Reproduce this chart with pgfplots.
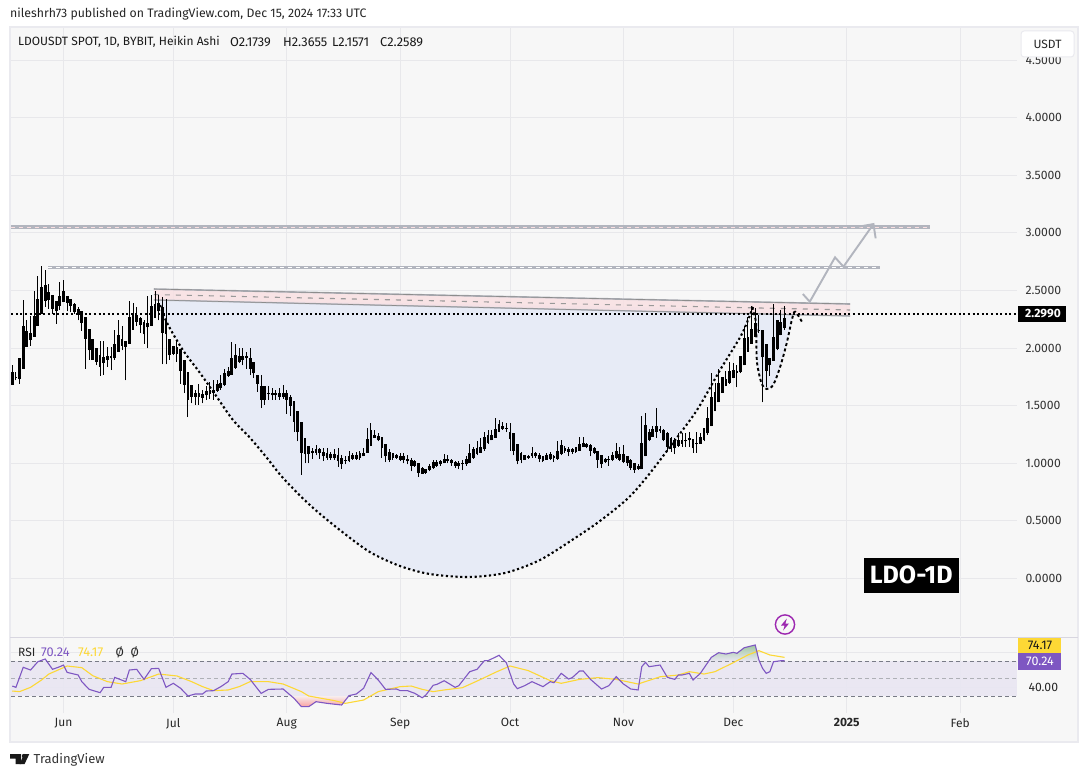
\documentclass[border=0pt]{standalone}
\usepackage{fontspec}
\usepackage{pgfplots}
\usepackage{pgfplotstable}
\pgfplotsset{compat=1.18}
\setmainfont{Fira Sans}
\definecolor{pane}{HTML}{F7F7F7}
\definecolor{panebd}{HTML}{EAEAEF}
\definecolor{gridc}{HTML}{E8E8EB}
\definecolor{sepc}{HTML}{D8D6E0}
\definecolor{cupblue}{HTML}{E7EBF6}
\definecolor{chpink}{HTML}{F9DFE1}
\definecolor{lineg}{HTML}{B2B5BE}
\definecolor{rsip}{HTML}{7E57C2}
\definecolor{rsiy}{HTML}{FDD835}
\definecolor{band}{HTML}{E9E6F2}
\definecolor{dashg}{HTML}{787B86}
\definecolor{bolt}{HTML}{9C27B0}
\newcommand{\fs}[1]{\fontsize{#1}{#1}\selectfont}
\pgfplotstableread{
d bh bl h l
-14 1.79 1.68 1.85 1.68
-13 1.75 1.74 1.79 1.72
-12 1.91 1.73 1.91 1.69
-11 2.19 1.82 2.42 1.82
-10 2.15 2.01 2.24 2.01
-9 2.13 2.07 2.28 2.02
-8 2.28 2.10 2.50 2.10
-7 2.43 2.19 2.63 2.19
-6 2.53 2.30 2.71 2.30
-5 2.55 2.41 2.68 2.36
-4 2.49 2.42 2.56 2.34
-3 2.46 2.34 2.46 2.30
-2 2.41 2.32 2.41 2.21
-1 2.45 2.37 2.57 2.33
0 2.50 2.40 2.59 2.40
1 2.45 2.39 2.45 2.32
2 2.43 2.37 2.43 2.31
3 2.38 2.31 2.39 2.30
4 2.34 2.29 2.36 2.24
5 2.32 2.22 2.32 2.15
6 2.27 2.08 2.27 1.82
7 2.17 1.98 2.17 1.90
8 2.08 1.90 2.08 1.90
9 2.00 1.88 2.00 1.85
10 1.94 1.84 2.06 1.76
11 1.92 1.87 2.06 1.77
12 1.93 1.90 2.01 1.84
13 1.93 1.91 2.01 1.81
14 2.04 1.91 2.16 1.90
15 2.11 1.97 2.24 1.97
16 2.08 2.02 2.19 1.98
17 2.06 2.01 2.06 1.72
18 2.27 2.04 2.41 2.04
19 2.30 2.16 2.39 2.16
20 2.29 2.23 2.36 2.19
21 2.26 2.20 2.27 2.13
22 2.23 2.12 2.24 2.04
23 2.22 2.18 2.45 2.00
24 2.37 2.19 2.46 2.19
25 2.38 2.26 2.50 2.26
26 2.39 2.32 2.46 2.24
27 2.36 2.13 2.44 1.86
28 2.24 2.12 2.43 1.86
29 2.08 1.94 2.08 1.90
30 2.02 1.95 2.02 1.94
31 2.01 1.95 2.06 1.88
32 1.99 1.80 1.99 1.69
33 1.90 1.68 1.90 1.61
34 1.79 1.55 1.79 1.40
35 1.68 1.58 1.68 1.52
36 1.61 1.58 1.64 1.51
37 1.61 1.58 1.69 1.51
38 1.60 1.57 1.64 1.52
39 1.63 1.59 1.67 1.55
40 1.64 1.60 1.71 1.56
41 1.64 1.61 1.72 1.55
42 1.69 1.63 1.72 1.62
43 1.70 1.65 1.77 1.64
44 1.78 1.68 1.82 1.67
45 1.80 1.76 1.84 1.75
46 1.91 1.77 2.05 1.77
47 1.94 1.83 2.04 1.82
48 1.93 1.88 2.00 1.87
49 1.93 1.90 2.00 1.85
50 1.93 1.91 1.97 1.82
51 1.91 1.82 2.00 1.77
52 1.88 1.78 1.88 1.74
53 1.77 1.69 1.77 1.62
54 1.67 1.55 1.77 1.48
55 1.67 1.55 1.67 1.51
56 1.61 1.60 1.67 1.55
57 1.61 1.59 1.65 1.55
58 1.61 1.59 1.64 1.55
59 1.61 1.58 1.65 1.55
60 1.61 1.58 1.68 1.56
61 1.61 1.55 1.64 1.43
62 1.58 1.50 1.59 1.41
63 1.54 1.36 1.54 1.27
64 1.45 1.27 1.45 1.19
65 1.36 1.09 1.36 0.90
66 1.22 1.08 1.22 1.00
67 1.15 1.08 1.15 1.00
68 1.11 1.09 1.13 1.04
69 1.12 1.09 1.16 1.07
70 1.12 1.09 1.13 1.04
71 1.10 1.06 1.13 1.02
72 1.09 1.05 1.13 1.03
73 1.08 1.05 1.10 1.03
74 1.08 1.05 1.12 1.03
75 1.07 1.02 1.13 0.97
76 1.05 0.99 1.07 0.95
77 1.03 1.02 1.06 0.99
78 1.06 1.02 1.11 1.01
79 1.07 1.04 1.09 1.03
80 1.07 1.04 1.10 1.03
81 1.09 1.05 1.11 1.03
82 1.09 1.06 1.13 1.06
83 1.21 1.09 1.31 1.09
84 1.29 1.15 1.35 1.15
85 1.25 1.22 1.29 1.22
86 1.24 1.20 1.26 1.19
87 1.23 1.13 1.23 1.05
88 1.17 1.06 1.17 1.01
89 1.10 1.03 1.12 1.01
90 1.09 1.05 1.09 1.03
91 1.07 1.05 1.08 1.04
92 1.06 1.03 1.09 1.02
93 1.06 1.03 1.09 1.00
94 1.04 1.02 1.07 0.99
95 1.03 0.98 1.05 0.93
96 1.02 0.98 1.03 0.97
97 1.00 0.92 1.00 0.88
98 0.96 0.91 0.97 0.91
99 0.95 0.92 0.95 0.91
100 0.98 0.94 0.99 0.93
101 1.01 0.96 1.03 0.95
102 1.01 0.98 1.03 0.97
103 1.02 0.99 1.03 0.98
104 1.04 1.00 1.08 1.00
105 1.04 1.02 1.07 1.00
106 1.03 1.00 1.04 0.98
107 1.01 0.98 1.02 0.96
108 1.00 0.98 1.02 0.95
109 1.00 0.99 1.03 0.94
110 1.04 0.99 1.06 0.98
111 1.09 1.00 1.17 1.00
112 1.12 1.05 1.14 1.04
113 1.13 1.08 1.19 1.07
114 1.14 1.09 1.22 1.09
115 1.23 1.12 1.27 1.11
116 1.25 1.18 1.29 1.17
117 1.25 1.20 1.29 1.20
118 1.30 1.22 1.39 1.22
119 1.34 1.27 1.38 1.27
120 1.32 1.30 1.36 1.29
121 1.31 1.30 1.35 1.27
122 1.27 1.21 1.35 1.11
123 1.26 1.11 1.26 1.07
124 1.17 1.02 1.17 0.99
125 1.09 1.03 1.10 1.00
126 1.07 1.03 1.07 1.03
127 1.06 1.05 1.07 1.04
128 1.09 1.06 1.14 1.05
129 1.09 1.06 1.10 1.05
130 1.07 1.04 1.09 1.01
131 1.06 1.02 1.06 1.01
132 1.07 1.03 1.09 1.03
133 1.08 1.04 1.10 1.03
134 1.06 1.05 1.07 1.01
135 1.11 1.04 1.19 1.03
136 1.16 1.08 1.20 1.07
137 1.13 1.11 1.15 1.09
138 1.12 1.10 1.14 1.06
139 1.12 1.10 1.13 1.08
140 1.14 1.10 1.14 1.09
141 1.17 1.11 1.23 1.11
142 1.18 1.14 1.23 1.14
143 1.17 1.14 1.18 1.13
144 1.16 1.11 1.17 1.06
145 1.13 1.09 1.14 1.08
146 1.11 1.03 1.11 0.96
147 1.07 0.99 1.07 0.96
148 1.04 1.01 1.05 1.00
149 1.04 1.03 1.06 0.98
150 1.07 1.03 1.10 1.02
151 1.11 1.05 1.18 1.04
152 1.08 1.03 1.14 1.02
153 1.08 1.01 1.16 1.00
154 1.06 1.00 1.06 0.98
155 1.03 0.96 1.04 0.94
156 1.00 0.94 1.00 0.92
157 0.98 0.95 0.99 0.94
158 1.18 0.95 1.41 0.95
159 1.33 1.06 1.44 1.06
160 1.27 1.20 1.30 1.19
161 1.30 1.23 1.32 1.23
162 1.32 1.27 1.48 1.22
163 1.30 1.28 1.32 1.26
164 1.29 1.20 1.30 1.19
165 1.26 1.14 1.27 1.11
166 1.22 1.12 1.23 1.10
167 1.20 1.13 1.22 1.08
168 1.20 1.15 1.26 1.14
169 1.20 1.17 1.26 1.14
170 1.20 1.19 1.26 1.14
171 1.22 1.20 1.27 1.14
172 1.21 1.13 1.21 1.09
173 1.18 1.17 1.27 1.09
174 1.23 1.17 1.26 1.17
175 1.31 1.20 1.31 1.19
176 1.39 1.26 1.49 1.25
177 1.58 1.32 1.78 1.32
178 1.62 1.45 1.70 1.45
179 1.70 1.53 1.82 1.53
180 1.75 1.61 1.75 1.61
181 1.73 1.67 1.80 1.67
182 1.80 1.70 1.88 1.69
183 1.81 1.74 1.87 1.74
184 1.80 1.78 1.85 1.66
185 1.93 1.79 1.93 1.78
186 2.09 1.85 2.19 1.85
187 2.10 1.97 2.27 1.97
188 2.17 2.04 2.37 2.04
189 2.22 2.10 2.35 2.10
190 2.16 2.15 2.29 2.13
191 2.16 1.92 2.16 1.53
192 2.04 1.80 2.04 1.66
193 1.91 1.85 1.91 1.76
194 2.10 1.89 2.38 1.89
195 2.24 1.99 2.24 1.98
196 2.23 2.11 2.33 2.11
197 2.2589 2.1739 2.3655 2.1571
}\candles
\pgfplotstableread{
d v
-14 41.4
-13 39.9
-11 62.8
-9 59.7
-7 69.2
-5 72.3
-3 60.5
-1 63.5
0 65.4
1 57
4 54
5 46.4
7 37.6
10 33.8
11 39.9
13 39.9
14 51.3
17 46.4
18 59.7
20 60.5
22 49
24 61.2
26 61.6
28 39.9
30 44.5
32 38.8
34 30
36 32.3
38 32.3
39 35.7
41 36.1
43 40.7
45 46.4
46 55.1
49 55.9
51 49
54 33
56 37.6
60 38
63 27.3
65 17.8
67 17.8
69 23.5
72 21.6
76 19.7
78 30.4
80 32.3
82 38.8
84 56.7
86 48.3
88 37.6
91 38
92 36.1
94 36.1
96 33
98 28
99 31.1
101 42.2
102 43.3
104 47.5
107 39.9
108 41.8
111 57.8
113 60.5
115 70.4
116 70.4
119 76.5
121 68.1
123 43.7
124 38.4
126 41.8
128 46.4
131 40.7
133 46.4
134 45.2
136 55.9
138 49.4
139 51
141 58.6
142 58.6
144 49
147 38
149 41.8
151 52.1
153 43.7
155 38
157 36.9
158 63.5
159 68.5
160 63.5
163 65.4
165 51.3
167 49
168 54
169 54
171 55.9
172 48.3
174 55.9
177 74.2
179 79.5
181 78
183 79.9
184 78.8
186 85.2
189 88.3
190 71.1
191 61.6
192 55.9
193 57.8
194 69.2
196 70.3
197 70.24
}\rsi
\pgfplotstableread{
d v
-14 35.7
-12 35
-9 39.9
-6 48.3
-4 55.1
1 64.3
5 62.4
8 53.2
12 46.4
16 43.7
21 47.5
26 55.1
31 52.9
35 46.4
38 40.7
41 36.1
45 36.9
48 40.7
51 46.4
56 46.4
60 43.7
65 35
67 30
74 24.7
77 21.6
82 25.4
86 35
92 40.7
95 41.4
98 37.6
101 35
104 36.9
109 39.5
114 49
118 57
122 64.3
127 59
133 47.5
136 44.5
141 49
146 51
151 49
157 43.7
163 52
168 54
171 57.8
175 55.1
178 57.8
183 68.1
187 76.9
190 81.8
193 76.9
197 74.17
}\rsima
\begin{document}
\begin{tikzpicture}
\fill[white] (0pt,0pt) rectangle (1089pt,777pt);
\fill[pane,draw=panebd,line width=1.5pt] (10pt,35pt) rectangle (1078pt,750pt);
\draw[sepc,line width=1pt] (10pt,140pt) -- (1078pt,140pt);
% price pane
\begin{axis}[
  at={(11pt,141pt)},anchor=south west,scale only axis,width=1006pt,height=608pt,
  xmin=-14.344,xmax=260.52,ymin=-0.499,ymax=4.779,
  axis line style={draw=none},tick style={draw=none},
  clip=true,
  xtick={0,30,61,92,122,153,183,214,245},xticklabels={},
  ytick={0,0.5,1,1.5,2,2.5,3,3.5,4,4.5},
  yticklabel pos=right,
  yticklabel style={/pgf/number format/fixed,/pgf/number format/fixed zerofill,/pgf/number format/precision=4,/pgf/number format/assume math mode=true,font=\fs{12.2},black!80,xshift=5pt},
  grid=major,major grid style={gridc,line width=0.9pt},
]
% cup fill
\addplot[draw=none,fill=cupblue,smooth] coordinates {
 (26.4,2.426)(26.4,2.374)(28.3,2.218)(32.6,1.984)(37.3,1.784)(41.9,1.576)(46.3,1.376)(51,1.22)(55.6,1.046)(60,0.872)(67.3,0.638)(75.5,0.421)(83.7,0.23)(91.9,0.109)(100.1,0.039)(110.5,0.013)(120.6,0.048)(130.2,0.161)(139.8,0.352)(146.6,0.50)(154,0.69)(159.4,0.881)(166.5,1.176)(173.1,1.463)(179.4,1.81)(184.9,2.096)(186.8,2.227)(188.4,2.339)} -- cycle;
% handle fill
\addplot[draw=none,fill=cupblue,smooth] coordinates {
 (188.1,2.34)(189.2,2.227)(189.3,2.07)(189.5,1.871)(190.7,1.697)(192.1,1.645)(193.9,1.68)(195.8,1.836)(197.6,2.044)(199,2.244)(199.9,2.316)} -- cycle;
% channel
\addplot[draw=none,fill=chpink,fill opacity=0.8] coordinates {(24.7,2.513)(214.9,2.383)(214.9,2.279)(24.7,2.418)} -- cycle;
\addplot[color=lineg,line width=1.6pt] coordinates {(24.7,2.513)(214.9,2.383)};
\addplot[color=black!45,line width=0.7pt] coordinates {(24.7,2.513)(214.9,2.383)};
\addplot[color=lineg,line width=1.4pt] coordinates {(24.7,2.418)(214.9,2.279)};
\addplot[color=black!45,line width=0.6pt] coordinates {(24.7,2.418)(214.9,2.279)};
\addplot[color=black!40,line width=1.1pt,dash pattern=on 5pt off 6pt] coordinates {(24.7,2.465)(214.9,2.331)};
% resistance levels
\addplot[color=lineg,line width=3.6pt] coordinates {(-14.3,3.051)(236.7,3.051)};
\addplot[color=chpink,line width=1pt,dash pattern=on 4pt off 4pt] coordinates {(-14.3,3.051)(236.7,3.051)};
\addplot[color=lineg,line width=3.6pt] coordinates {(-4.2,2.70)(223.1,2.70)};
\addplot[color=white,line width=1pt,dash pattern=on 4pt off 4pt] coordinates {(-4.2,2.70)(223.1,2.70)};
% last price
\addplot[color=black,line width=2pt,dash pattern=on 2pt off 2.6pt] coordinates {(-14.3,2.299)(260.5,2.299)};
% candles
\addplot[draw=none,no markers,error bars/.cd,y dir=plus,y explicit,error mark=none,error bar style={black,line width=0.95pt}]
  table[x=d,y=l,y error expr=\thisrow{h}-\thisrow{l}] {\candles};
\addplot[draw=none,no markers,error bars/.cd,y dir=plus,y explicit,error mark=none,error bar style={black,line width=2.8pt}]
  table[x=d,y=bl,y error expr=\thisrow{bh}-\thisrow{bl}] {\candles};
% cup outlines
\addplot[color=black,smooth,line width=2.1pt,dash pattern=on 2.2pt off 2.6pt] coordinates {
 (26.4,2.374)(28.3,2.218)(32.6,1.984)(37.3,1.784)(41.9,1.576)(46.3,1.376)(51,1.22)(55.6,1.046)(60,0.872)(67.3,0.638)(75.5,0.421)(83.7,0.23)(91.9,0.109)(100.1,0.039)(110.5,0.013)(120.6,0.048)(130.2,0.161)(139.8,0.352)(146.6,0.50)(154,0.69)(159.4,0.881)(166.5,1.176)(173.1,1.463)(179.4,1.81)(184.9,2.096)(186.8,2.227)(188.4,2.357)};
\addplot[color=black,smooth,line width=1.9pt,dash pattern=on 3pt off 2.6pt] coordinates {
 (188.1,2.357)(189.2,2.227)(189.3,2.07)(189.5,1.871)(190.7,1.697)(192.1,1.645)(193.9,1.68)(195.8,1.836)(197.6,2.044)(199,2.244)(199.9,2.316)(202,2.215)};
% projected path
\addplot[color=lineg,line width=1.9pt] coordinates {(202,2.47)(203.9,2.403)(210.8,2.788)(213.1,2.707)(221.3,3.077)};
\addplot[color=lineg,line width=1.9pt] coordinates {(217.2,3.054)(221.3,3.077)(221.9,2.953)};
\end{axis}
% RSI pane
\begin{axis}[
  at={(11pt,64pt)},anchor=south west,scale only axis,width=1006pt,height=76pt,
  xmin=-14.344,xmax=260.52,ymin=10.57,ymax=97.43,
  axis line style={draw=none},tick style={draw=none},
  xtick={0,30,61,92,122,153,183,214,245},
  xticklabels={Jun,Jul,Aug,Sep,Oct,Nov,Dec,\textbf{2025},Feb},
  xticklabel style={font=\fs{12},black!85,yshift=-2pt},
  ytick={40,80},yticklabels={40.00,},
  yticklabel pos=right,
  yticklabel style={font=\fs{12.2},black!85,xshift=8pt},
  grid=major,major grid style={gridc,line width=0.9pt},
]
\addplot[draw=none,fill=band,fill opacity=0.9] coordinates {(-14.344,30)(260.52,30)(260.52,70)(-14.344,70)} -- cycle;
\addplot[color=dashg,line width=0.8pt,dash pattern=on 4pt off 3pt] coordinates {(-14.344,70)(260.52,70)};
\addplot[color=dashg!60,line width=0.8pt,dash pattern=on 4pt off 3pt] coordinates {(-14.344,50)(260.52,50)};
\addplot[color=dashg,line width=0.8pt,dash pattern=on 4pt off 3pt] coordinates {(-14.344,30)(260.52,30)};
\addplot[draw=none,top color=red!4!pane,bottom color=red!35!pane] coordinates {(62,30)(63,27.3)(65,17.8)(67,17.8)(69,23.5)(72,21.6)(76,19.7)(78,30)} -- cycle;
\addplot[draw=none,top color=green!45!black!35!pane,bottom color=band] coordinates {(176.4,70)(177,74.2)(179,79.5)(181,78)(183,79.9)(184,78.8)(186,85.2)(189,88.3)(190,71.1)(190.1,70)} -- cycle;
\addplot[color=rsiy,line width=1.1pt] table[x=d,y=v] {\rsima};
\addplot[color=rsip,line width=1.1pt] table[x=d,y=v] {\rsi};
\end{axis}
\begin{scope}[x=1pt,y=-1pt,shift={(0pt,777pt)}]
 % header
 \node[anchor=west,inner sep=0pt,black!85] at (10,14) {\fs{12.3}nileshrh73 published on TradingView.com, Dec 15, 2024 17:33 UTC};
 \node[anchor=west,inner sep=0pt,black!90] at (18,42) {\fs{12}LDOUSDT SPOT, 1D, BYBIT, Heikin Ashi};
 \node[anchor=west,inner sep=0pt,black!90] at (230,42) {\fs{12.8}O2.1739};
 \node[anchor=west,inner sep=0pt,black!90] at (283,42) {\fs{12.8}H2.3655};
 \node[anchor=west,inner sep=0pt,black!90] at (332,42) {\fs{12.8}L2.1571};
 \node[anchor=west,inner sep=0pt,black!90] at (380,42) {\fs{12.8}C2.2589};
 % USDT box
 \draw[fill=white,draw=panebd,line width=1pt,rounded corners=3pt] (1021,31) rectangle (1074,57);
 \node[black!85] at (1047.5,44) {\fs{12}USDT};
 % price label
 \fill[black] (1018,306) rectangle (1066,322);
 \node[white] at (1043,314) {\fs{12}\textbf{2.2990}};
 % LDO label
 \fill[black] (863.5,557.5) rectangle (959,592.7);
 \node[white] at (911.2,575) {\fs{25}\textbf{LDO-1D}};
 % RSI legend
 \node[anchor=west,inner sep=0pt,black!85] at (18,652.5) {\fs{12}RSI};
 \node[anchor=west,inner sep=0pt,rsip] at (41,652.5) {\fs{12.8}70.24};
 \node[anchor=west,inner sep=0pt,rsiy] at (78,652.5) {\fs{12.8}74.17};
 \node[anchor=west,inner sep=0pt,black!85] at (115.5,652.5) {\fs{12}Ø};
 \node[anchor=west,inner sep=0pt,black!85] at (130.5,652.5) {\fs{12}Ø};
 % RSI labels
 \fill[rsiy] (1018,637.7) rectangle (1060.7,652.7);
 \node[black!90] at (1040,645.5) {\fs{12.5}74.17};
 \fill[rsip] (1018,652.7) rectangle (1060.7,670);
 \node[white] at (1040,661.5) {\fs{12.5}70.24};
 % lightning icon
 \draw[bolt,line width=1.4pt,fill=pane] (785,624.5) circle (9.6);
 \fill[bolt] (786.8,618.5) -- (781,625.5) -- (784.6,625.5) -- (783.2,630.5) -- (789,623.5) -- (785.4,623.5) -- cycle;
 % TradingView logo
 \fill[black!90] (10,754) -- (21,754) -- (21,764) -- (15.5,764) -- (15.5,758.5) -- (10,758.5) -- cycle;
 \fill[black!90] (24,756) circle (2.2);
 \fill[black!90] (29.3,754) -- (24.6,764) -- (19.5,764) -- (24.2,754) -- cycle;
 \node[anchor=west,inner sep=0pt,black!80] at (33.5,759.5) {\fs{13}TradingView};
\end{scope}
\end{tikzpicture}
\end{document}
